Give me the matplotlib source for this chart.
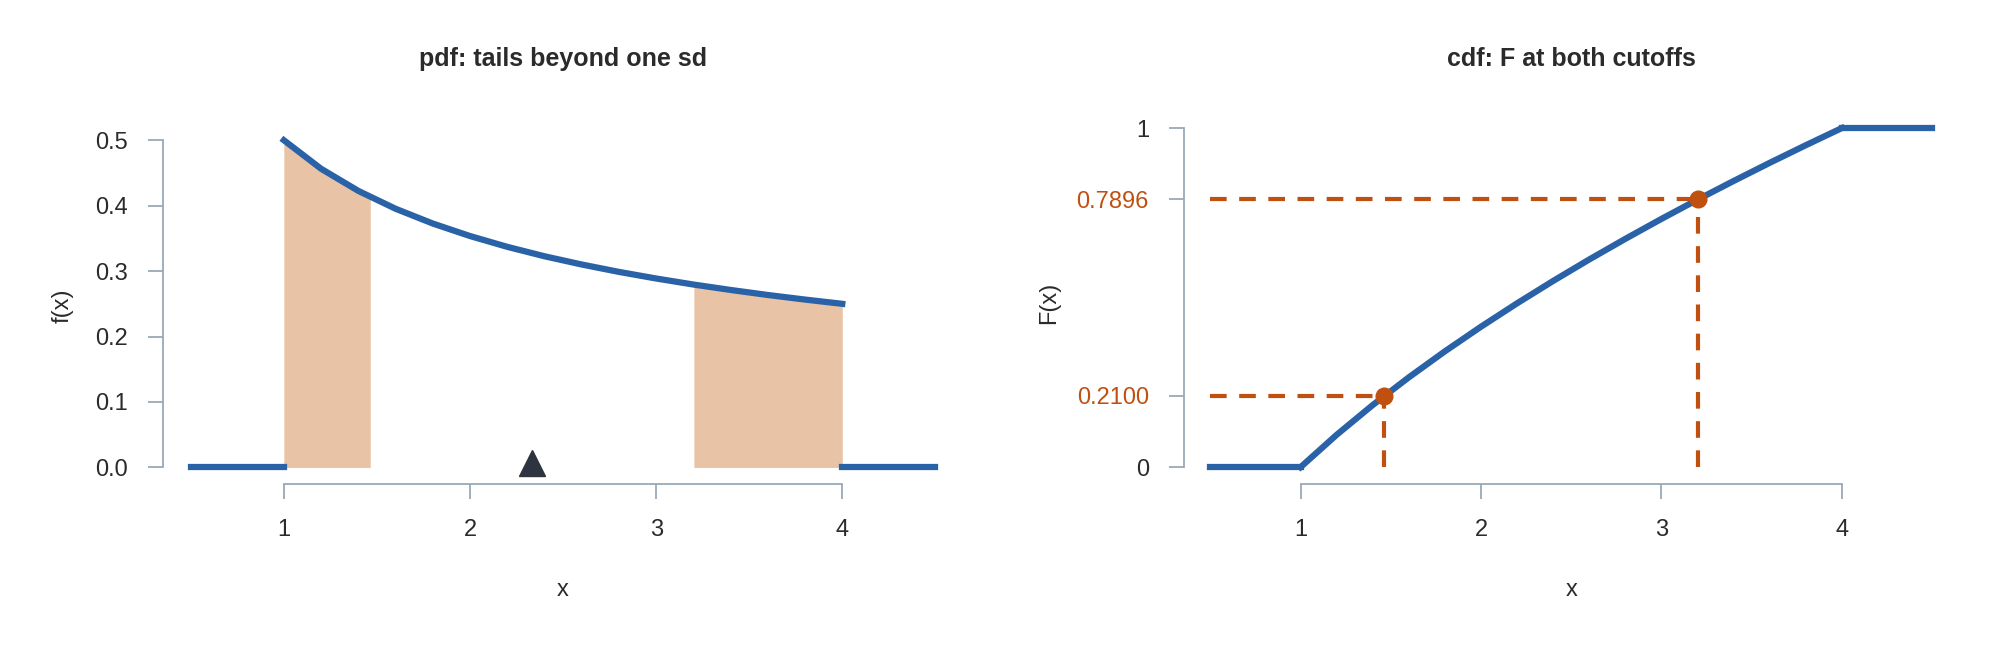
import matplotlib
matplotlib.use("Agg")
import matplotlib.pyplot as plt
plt.rcParams['font.family'] = ['Liberation Sans', 'DejaVu Sans']

xs = [1.0,1.2,1.4,1.6,1.8,2.0,2.2,2.4,2.6,2.8,3.0,3.2,3.4,3.6,3.8,4.0]
pdf = [0.5,0.4564,0.4226,0.3953,0.3727,0.3536,0.3371,0.3227,0.3101,0.2988,0.2887,0.2795,0.2712,0.2635,0.2565,0.25]
cdf = [0,0.0954,0.1832,0.2649,0.3416,0.4142,0.4832,0.5492,0.6125,0.6733,0.7321,0.7889,0.8439,0.8974,0.9494,1.0]
cut_lo, cut_hi = 1.4641, 3.2027
f_lo, f_hi = 0.4132, 0.2794
p_lo, p_hi = 0.2100, 0.7896
mean_x = 2.3333

BLUE = "#2a62a8"; FILL = "#e9c3a5"; ORG = "#c0500f"; DARK = "#2d3440"; SP = "#9aa8b8"; TXT = "#2b2b2b"

fig = plt.figure(figsize=(19.96, 6.52), dpi=100)

def style(ax, ybounds):
    for s in ["top", "right"]:
        ax.spines[s].set_visible(False)
    for s in ["left", "bottom"]:
        ax.spines[s].set_color(SP)
        ax.spines[s].set_linewidth(1.3)
    ax.spines["left"].set_bounds(*ybounds)
    ax.spines["bottom"].set_bounds(1, 4)
    ax.tick_params(colors=SP, labelcolor=TXT, labelsize=17, length=11, width=1.3, direction="out", pad=14)
    ax.set_xticks([1, 2, 3, 4])
    ax.set_xlabel("x", fontsize=17, color=TXT, labelpad=28)

# pdf
ax1 = fig.add_axes([0.0816, 0.258, 0.401, 0.547])
ax1.set_xlim(0.35, 4.65); ax1.set_ylim(-0.025, 0.52)
style(ax1, (0, 0.5))
lx = [x for x in xs if x <= cut_lo] + [cut_lo]
ly = [p for x, p in zip(xs, pdf) if x <= cut_lo] + [f_lo]
ax1.fill_between(lx, 0, ly, color=FILL, lw=0)
hx = [cut_hi] + [x for x in xs if x >= cut_hi]
hy = [f_hi] + [p for x, p in zip(xs, pdf) if x >= cut_hi]
ax1.fill_between(hx, 0, hy, color=FILL, lw=0)
ax1.plot(xs, pdf, color=BLUE, lw=4.5)
ax1.plot([0.5, 1], [0, 0], color=BLUE, lw=4.5)
ax1.plot([4, 4.5], [0, 0], color=BLUE, lw=4.5)
ax1.plot([mean_x], [0.007], marker="^", ms=19, color=DARK, clip_on=False)
ax1.set_yticks([0, 0.1, 0.2, 0.3, 0.4, 0.5])
ax1.set_yticklabels(["0.0", "0.1", "0.2", "0.3", "0.4", "0.5"])
ax1.set_ylabel("f(x)", fontsize=17, color=TXT, labelpad=16)
ax1.set_title("pdf: tails beyond one sd", fontsize=18, fontweight="bold", color=TXT, pad=44)

# cdf
ax2 = fig.add_axes([0.593, 0.258, 0.389, 0.556])
ax2.set_xlim(0.352, 4.655); ax2.set_ylim(-0.049, 1.02)
style(ax2, (0, 1))
for cx, cp in [(cut_lo, p_lo), (cut_hi, p_hi)]:
    ax2.plot([0.5, cx], [cp, cp], color=ORG, lw=3, ls=(0, (4, 3)))
    ax2.plot([cx, cx], [0, cp], color=ORG, lw=3, ls=(0, (4, 3)))
ax2.plot([0.5, 1], [0, 0], color=BLUE, lw=4.5)
ax2.plot(xs, cdf, color=BLUE, lw=4.5)
ax2.plot([4, 4.5], [1, 1], color=BLUE, lw=4.5)
ax2.plot([cut_lo, cut_hi], [p_lo, p_hi], "o", color=ORG, ms=12, zorder=5)
ax2.set_yticks([0, p_lo, p_hi, 1])
ax2.set_yticklabels(["0", "0.2100", "0.7896", "1"])
for i in (1, 2):
    ax2.get_yticklabels()[i].set_color(ORG)
ax2.set_ylabel("F(x)", fontsize=17, color=TXT, labelpad=12)
ax2.set_title("cdf: F at both cutoffs", fontsize=18, fontweight="bold", color=TXT, pad=40)

fig.savefig("out.png", dpi=100, facecolor="white")
